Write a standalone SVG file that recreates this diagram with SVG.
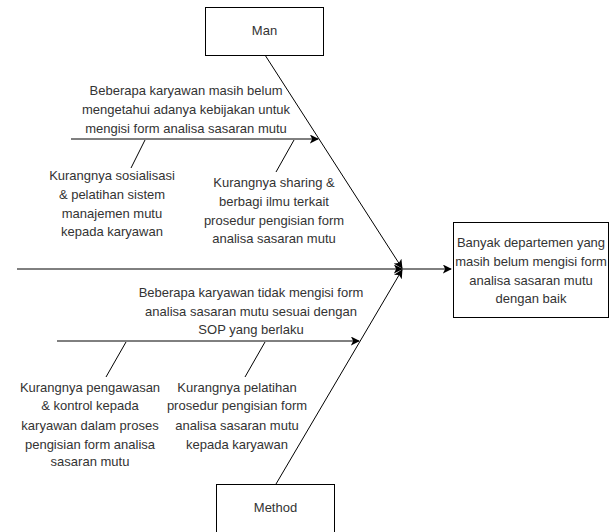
<svg xmlns="http://www.w3.org/2000/svg" width="610" height="532" viewBox="0 0 610 532">
<style>
text{font-family:"Liberation Sans",Arial,sans-serif;font-size:13px;fill:#333;text-anchor:middle}
.box{fill:#fff;stroke:#000;stroke-width:1}
.ln{stroke:#000;stroke-width:1;fill:none}
</style>
<defs>
<marker id="ah" viewBox="0 0 10 10" refX="9" refY="5" markerWidth="9" markerHeight="9" markerUnits="userSpaceOnUse" orient="auto">
<path d="M0,0 L10,5 L0,10 L2.5,5 Z" fill="#000"/>
</marker>
</defs>
<rect width="610" height="532" fill="#fff"/>
<g id="connectors">
<line class="ln" x1="17" y1="269" x2="402" y2="269" marker-end="url(#ah)"/>
<line class="ln" x1="402" y1="269" x2="451" y2="269" marker-end="url(#ah)"/>
<line class="ln" x1="265" y1="55" x2="402" y2="268" marker-end="url(#ah)"/>
<line class="ln" x1="276" y1="484" x2="402" y2="270" marker-end="url(#ah)"/>
<line class="ln" x1="71" y1="139" x2="318" y2="139" marker-end="url(#ah)"/>
<line class="ln" x1="57" y1="341" x2="359" y2="341" marker-end="url(#ah)"/>
<line class="ln" x1="145" y1="140" x2="131" y2="168"/>
<line class="ln" x1="294" y1="140" x2="276" y2="172"/>
<line class="ln" x1="126" y1="342" x2="106" y2="377"/>
<line class="ln" x1="265" y1="342" x2="245" y2="377"/>
</g>
<g id="man">
<rect class="box" x="205.5" y="7.5" width="118" height="48"/>
<text x="264.5" y="35">Man</text>
</g>
<g id="method">
<rect class="box" x="216.5" y="484.5" width="118" height="48"/>
<text x="275.5" y="512">Method</text>
</g>
<g id="effect">
<rect class="box" x="453.5" y="222.5" width="155" height="95"/>
<text x="531" y="247">Banyak departemen yang</text>
<text x="531" y="266">masih belum mengisi form</text>
<text x="531" y="285">analisa sasaran mutu</text>
<text x="531" y="303">dengan baik</text>
</g>
<g id="cause-man-1">
<text x="186" y="95">Beberapa karyawan masih belum</text>
<text x="186" y="114">mengetahui adanya kebijakan untuk</text>
<text x="186" y="133">mengisi form analisa sasaran mutu</text>
</g>
<g id="sub-man-1">
<text x="112" y="180">Kurangnya sosialisasi</text>
<text x="112" y="199">&amp; pelatihan sistem</text>
<text x="112" y="218">manajemen mutu</text>
<text x="112" y="236">kepada karyawan</text>
</g>
<g id="sub-man-2">
<text x="274" y="187">Kurangnya sharing &amp;</text>
<text x="274" y="206">berbagi ilmu terkait</text>
<text x="274" y="225">prosedur pengisian form</text>
<text x="274" y="243">analisa sasaran mutu</text>
</g>
<g id="cause-method-1">
<text x="251" y="297">Beberapa karyawan tidak mengisi form</text>
<text x="251" y="316">analisa sasaran mutu sesuai dengan</text>
<text x="251" y="334">SOP yang berlaku</text>
</g>
<g id="sub-method-1">
<text x="90" y="392">Kurangnya pengawasan</text>
<text x="90" y="410">&amp; kontrol kepada</text>
<text x="90" y="430">karyawan dalam proses</text>
<text x="90" y="449">pengisian form analisa</text>
<text x="90" y="466">sasaran mutu</text>
</g>
<g id="sub-method-2">
<text x="237" y="392">Kurangnya pelatihan</text>
<text x="237" y="410">prosedur pengisian form</text>
<text x="237" y="430">analisa sasaran mutu</text>
<text x="237" y="449">kepada karyawan</text>
</g>
</svg>
